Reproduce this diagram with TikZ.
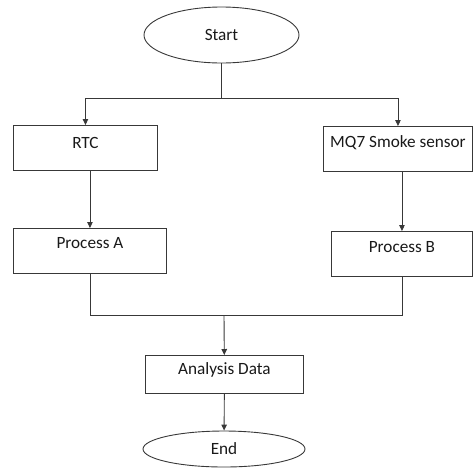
\documentclass[tikz,border=0pt]{standalone}
\usepackage{fontspec}
\setmainfont{Carlito}
\usetikzlibrary{arrows.meta,shapes.geometric}

\tikzset{
	flow/.style={draw=black!78, line width=0.9pt},
	box/.style={flow, rectangle, anchor=north west, inner sep=0pt, text=black!90},
	oval/.style={flow, ellipse, inner sep=0pt, text=black!90},
}

\begin{document}
\begin{tikzpicture}[x=1pt, y=-1pt, arrows={-Triangle[length=6pt,width=5.5pt]},
	font=\fontsize{17.2}{20}\selectfont]
	\useasboundingbox (0,0) rectangle (473,467);

	\node [oval, minimum width=155pt, minimum height=56pt] (start) at (221.5,35) {Start};
	\node [box, minimum width=144pt, text height=23.5pt, text depth=21.5pt] (rtc) at (13,125) {RTC};
	\node [box, minimum width=149pt, text height=21.5pt, text depth=23.5pt] (mq) at (323,126) {MQ7 Smoke sensor};
	\node [box, minimum width=153pt, text height=20.5pt, text depth=24.5pt] (pa) at (13,228) {Process A};
	\node [box, minimum width=141pt, text height=21.5pt, text depth=23.5pt] (pb) at (331,231) {Process B};
	\node [box, minimum width=158pt, text height=19.5pt, text depth=18.5pt] (ad) at (145,355) {Analysis Data};
	\node [oval, minimum width=162pt, minimum height=36pt] (end) at (224,449) {End};

	\coordinate (split) at (221.5,98);
	\coordinate (join) at (224,315);

	\draw [flow, -] (start) -- (split);
	\draw [flow] (split) -| (rtc);
	\draw [flow] (split) -| (mq);
	\draw [flow] (rtc.south -| pa) -- (pa);
	\draw [flow] (mq.south -| pb) -- (pb);
	\draw [flow, -] (pa) |- (join) -| (pb);
	\draw [flow] (join) -- (ad);
	\draw [flow] (ad) -- (end);
\end{tikzpicture}
\end{document}
